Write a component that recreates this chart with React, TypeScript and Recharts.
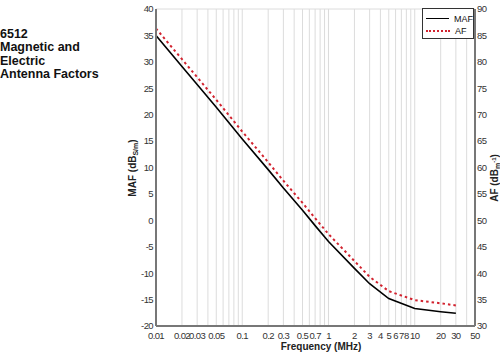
import { LineChart, Line, XAxis, YAxis, CartesianGrid } from 'recharts';

const FREQ = [0.01, 0.02, 0.03, 0.05, 0.1, 0.2, 0.3, 0.5, 0.7, 1, 2, 3, 5, 10, 20, 30];
const MAF = [35, 29.1, 25.7, 21.4, 15.4, 9.6, 6.1, 1.9, -1.0, -4.0, -9.1, -12.0, -14.8, -16.7, -17.3, -17.6];
const AF = [86.3, 80.5, 77.1, 72.8, 66.8, 61.0, 57.5, 53.3, 50.4, 47.4, 42.3, 39.3, 36.6, 34.9, 34.3, 33.9];

const X_GRID = [
  0.01, 0.02, 0.03, 0.04, 0.05, 0.06, 0.07, 0.08, 0.09,
  0.1, 0.2, 0.3, 0.4, 0.5, 0.6, 0.7, 0.8, 0.9,
  1, 2, 3, 4, 5, 6, 7, 8, 9,
  10, 20, 30, 40, 50,
];
const X_LABELS = [0.01, 0.02, 0.03, 0.05, 0.1, 0.2, 0.3, 0.5, 0.7, 1, 2, 3, 4, 5, 6, 7, 8, 10, 20, 30, 50];
const MAF_TICKS = [-20, -15, -10, -5, 0, 5, 10, 15, 20, 25, 30, 35, 40];
const AF_TICKS = [30, 35, 40, 45, 50, 55, 60, 65, 70, 75, 80, 85, 90];

const FONT = '"Liberation Sans", Arial, sans-serif';
const AXIS = { stroke: '#777', strokeWidth: 2 };
const TICK = { fontSize: 9.5, fill: '#333', fontFamily: FONT, letterSpacing: -0.6 };

const data = FREQ.map((f, i) => ({ freq: f, maf: MAF[i], af: AF[i] }));

function fmtFreq(v: number): string {
  return X_LABELS.includes(v) ? String(v) : '';
}

export default function App() {
  return (
    <div
      style={{
        position: 'absolute',
        left: 0,
        top: 0,
        width: 500,
        height: 354,
        background: '#fff',
        fontFamily: FONT,
      }}
    >
      <div
        style={{
          position: 'absolute',
          left: 0,
          top: 28,
          fontSize: 12.5,
          fontWeight: 'bold',
          lineHeight: '13.3px',
          color: '#111',
        }}
      >
        6512
        <br />
        Magnetic and
        <br />
        Electric
        <br />
        Antenna Factors
      </div>

      <LineChart width={500} height={354} data={data} margin={{ top: 9, right: 0, bottom: 0, left: 0 }}>
        <CartesianGrid stroke="#dcdcdc" strokeWidth={1} />
        <XAxis
          dataKey="freq"
          type="number"
          scale="log"
          domain={[0.01, 50]}
          allowDataOverflow
          ticks={X_GRID}
          interval={0}
          tickFormatter={fmtFreq}
          tick={TICK}
          tickLine={false}
          tickSize={2}
          tickMargin={4}
          height={28}
          axisLine={AXIS}
        />
        <XAxis
          xAxisId="top"
          dataKey="freq"
          type="number"
          scale="log"
          domain={[0.01, 50]}
          allowDataOverflow
          orientation="top"
          height={0}
          tick={false}
          tickLine={false}
          axisLine={AXIS}
        />
        <YAxis
          yAxisId="left"
          domain={[-20, 40]}
          ticks={MAF_TICKS}
          interval={0}
          width={156}
          tick={TICK}
          tickLine={false}
          tickSize={3}
          tickMargin={0}
          axisLine={AXIS}
        />
        <YAxis
          yAxisId="right"
          orientation="right"
          domain={[30, 90]}
          ticks={AF_TICKS}
          interval={0}
          width={25}
          tick={TICK}
          tickLine={false}
          tickSize={2}
          tickMargin={0}
          axisLine={AXIS}
        />
        <Line
          yAxisId="left"
          dataKey="maf"
          type="linear"
          stroke="#000"
          strokeWidth={1.6}
          dot={false}
          isAnimationActive={false}
        />
        <Line
          yAxisId="right"
          dataKey="af"
          type="linear"
          stroke="#d2232f"
          strokeWidth={2}
          strokeDasharray="2.5 3"
          dot={false}
          isAnimationActive={false}
        />
      </LineChart>

      {/* axis titles */}
      <svg
        width={500}
        height={354}
        style={{ position: 'absolute', left: 0, top: 0, pointerEvents: 'none' }}
        fontFamily={FONT}
        fontWeight="bold"
        fontSize={10}
        fill="#222"
      >
        <text x={321} y={350} textAnchor="middle">
          Frequency (MHz)
        </text>
        <text transform="translate(136,168) rotate(-90)" textAnchor="middle">
          MAF (dB
          <tspan fontSize={7} dy={2}>
            S/m
          </tspan>
          <tspan dy={-2}>)</tspan>
        </text>
        <text transform="translate(498,178) rotate(-90)" textAnchor="middle">
          AF (dB
          <tspan fontSize={7} dy={2}>
            m
          </tspan>
          <tspan fontSize={6} dy={-4}>
            -1
          </tspan>
          <tspan dy={2}>)</tspan>
        </text>
      </svg>

      {/* legend */}
      <div
        style={{
          position: 'absolute',
          left: 422,
          top: 8,
          width: 52,
          height: 31,
          boxSizing: 'border-box',
          border: '1px solid #333',
          background: '#fff',
          fontSize: 9,
          color: '#111',
        }}
      >
        <div style={{ display: 'flex', alignItems: 'center', height: 13, marginTop: 3 }}>
          <div style={{ width: 24, marginLeft: 3, borderTop: '1.5px solid #000' }} />
          <span style={{ marginLeft: 5 }}>MAF</span>
        </div>
        <div style={{ display: 'flex', alignItems: 'center', height: 11 }}>
          <div style={{ width: 24, marginLeft: 3, borderTop: '2px dotted #d2232f' }} />
          <span style={{ marginLeft: 5 }}>AF</span>
        </div>
      </div>
    </div>
  );
}
